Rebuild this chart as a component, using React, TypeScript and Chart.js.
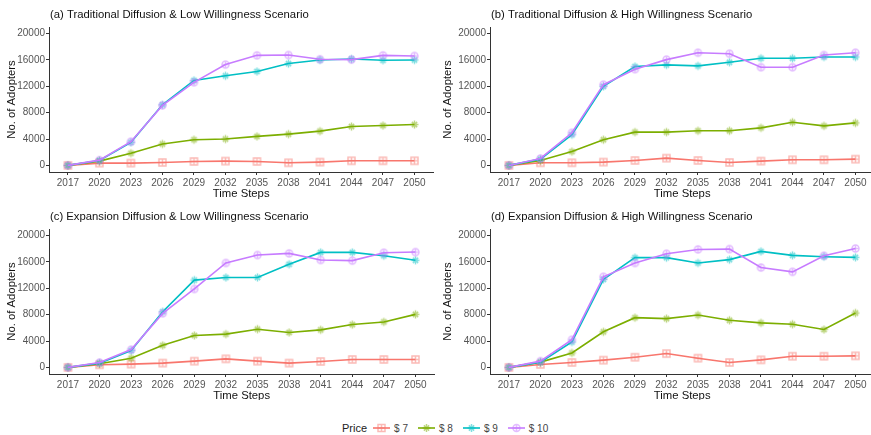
import React, { useEffect, useRef } from 'react';
import { Chart, registerables } from 'chart.js';

Chart.register(...registerables);

// ---------- data ----------
const years = ['2017', '2020', '2023', '2026', '2029', '2032', '2035', '2038', '2041', '2044', '2047', '2050'];
const yTickValues = [0, 4000, 8000, 12000, 16000, 20000];
const priceLabels = ['$ 7', '$ 8', '$ 9', '$ 10'];
const legendTitle = 'Price';
const xTitle = 'Time Steps';
const yTitle = 'No. of Adopters';
const panelTitles = [
  '(a) Traditional Diffusion & Low Willingness Scenario',
  '(b) Traditional Diffusion & High Willingness Scenario',
  '(c) Expansion Diffusion & Low Willingness Scenario',
  '(d) Expansion Diffusion & High Willingness Scenario',
];

const tradLowP7 = [0, 350, 350, 450, 600, 650, 600, 400, 500, 700, 700, 700];
const tradLowP8 = [0, 650, 1850, 3250, 3900, 4000, 4400, 4750, 5200, 5900, 6050, 6200];
const tradLowP9 = [0, 750, 3500, 9200, 12900, 13600, 14250, 15450, 16000, 16150, 15950, 16000];
const tradLowP10 = [0, 800, 3600, 9100, 12600, 15300, 16700, 16750, 16100, 16050, 16700, 16600];

const tradHighP7 = [0, 400, 400, 500, 750, 1100, 750, 450, 650, 850, 850, 950];
const tradHighP8 = [0, 750, 2100, 3900, 5050, 5050, 5250, 5250, 5700, 6550, 6000, 6450];
const tradHighP9 = [0, 950, 4650, 12000, 15000, 15250, 15100, 15650, 16250, 16250, 16450, 16450];
const tradHighP10 = [0, 1050, 4950, 12250, 14600, 16050, 17100, 16950, 14900, 14900, 16750, 17100];

const expLowP7 = [0, 400, 500, 650, 950, 1300, 950, 650, 900, 1200, 1200, 1200];
const expLowP8 = [0, 550, 1400, 3350, 4850, 5050, 5800, 5300, 5700, 6500, 6900, 8050];
const expLowP9 = [0, 650, 2550, 8450, 13250, 13650, 13650, 15650, 17450, 17450, 16950, 16250];
const expLowP10 = [0, 750, 2700, 8200, 11900, 15850, 17050, 17300, 16300, 16200, 17400, 17500];

const expHighP7 = [0, 450, 750, 1100, 1550, 2100, 1400, 750, 1150, 1700, 1700, 1750];
const expHighP8 = [0, 800, 2200, 5400, 7550, 7400, 7950, 7150, 6750, 6550, 5750, 8250];
const expHighP9 = [0, 800, 3850, 13350, 16650, 16650, 15850, 16350, 17600, 17000, 16800, 16700];
const expHighP10 = [0, 950, 4200, 13750, 15850, 17250, 17900, 17950, 15150, 14500, 16950, 18050];

// ---------- styles ----------
const COLORS = ['#F8766D', '#7CAE00', '#00BFC4', '#C77CFF'];
const FONT = '"Liberation Sans", Arial, Helvetica, sans-serif';
const AXIS_COLOR = '#333333';
const TICK_COLOR = '#555555';

function drawMarker(ctx: CanvasRenderingContext2D, kind: number, color: string, cx: number, cy: number) {
  ctx.save();
  ctx.strokeStyle = color;
  ctx.globalAlpha = 0.5;
  ctx.lineWidth = 1.5;
  const r = 3.5;
  ctx.beginPath();
  if (kind === 0) {
    ctx.rect(cx - r, cy - r, 2 * r, 2 * r);
    ctx.moveTo(cx, cy - r); ctx.lineTo(cx, cy + r);
    ctx.moveTo(cx - r, cy); ctx.lineTo(cx + r, cy);
  } else if (kind === 1 || kind === 2) {
    const d = r * 0.75;
    ctx.moveTo(cx, cy - r - 0.5); ctx.lineTo(cx, cy + r + 0.5);
    ctx.moveTo(cx - r - 0.5, cy); ctx.lineTo(cx + r + 0.5, cy);
    ctx.moveTo(cx - d, cy - d); ctx.lineTo(cx + d, cy + d);
    ctx.moveTo(cx - d, cy + d); ctx.lineTo(cx + d, cy - d);
  } else {
    ctx.arc(cx, cy, r, 0, Math.PI * 2);
    ctx.moveTo(cx, cy - r); ctx.lineTo(cx, cy + r);
    ctx.moveTo(cx - r, cy); ctx.lineTo(cx + r, cy);
  }
  ctx.stroke();
  ctx.restore();
}

function makeMarker(kind: number, color: string): HTMLCanvasElement {
  const s = 11;
  const c = document.createElement('canvas');
  c.width = s; c.height = s;
  const ctx = c.getContext('2d')!;
  drawMarker(ctx, kind, color, s / 2, s / 2);
  return c;
}

type Geo = { left: number; top: number; w: number; h: number; L: number; T: number; B: number; yTitleX: number };

const panels: { title: string; series: number[][]; geo: Geo }[] = [
  { title: panelTitles[0], series: [tradLowP7, tradLowP8, tradLowP9, tradLowP10], geo: { left: 0, top: 0, w: 440, h: 200, L: 49, T: 27, B: 172, yTitleX: 12 } },
  { title: panelTitles[1], series: [tradHighP7, tradHighP8, tradHighP9, tradHighP10], geo: { left: 435, top: 0, w: 446, h: 200, L: 55, T: 27, B: 172, yTitleX: 13 } },
  { title: panelTitles[2], series: [expLowP7, expLowP8, expLowP9, expLowP10], geo: { left: 0, top: 200, w: 441, h: 200, L: 49, T: 29, B: 174, yTitleX: 12 } },
  { title: panelTitles[3], series: [expHighP7, expHighP8, expHighP9, expHighP10], geo: { left: 435, top: 200, w: 446, h: 200, L: 55, T: 29, B: 174, yTitleX: 13 } },
];

function Panel({ title, series, geo }: { title: string; series: number[][]; geo: Geo }) {
  const ref = useRef<HTMLCanvasElement>(null);
  useEffect(() => {
    if (!ref.current) return;
    const markers = COLORS.map((c, i) => makeMarker(i, c));
    const textPlugin = {
      id: 'panelText',
      afterDraw(chart: any) {
        const { ctx, chartArea } = chart;
        ctx.save();
        ctx.fillStyle = '#111';
        ctx.textBaseline = 'middle';
        ctx.textAlign = 'left';
        ctx.font = `11.3px ${FONT}`;
        ctx.fillText(title, chartArea.left + 1, chartArea.top - 12);
        ctx.font = `11.3px ${FONT}`;
        ctx.textAlign = 'center';
        ctx.fillText(xTitle, (chartArea.left + chartArea.right) / 2, chartArea.bottom + 22);
        ctx.translate(geo.yTitleX, (chartArea.top + chartArea.bottom) / 2);
        ctx.rotate(-Math.PI / 2);
        ctx.fillText(yTitle, 0, 0);
        ctx.restore();
      },
    };
    const chart = new Chart(ref.current, {
      type: 'line',
      data: {
        datasets: series.map((vals, i) => ({
          label: priceLabels[i],
          data: vals.map((v, j) => ({ x: j, y: v })),
          borderColor: COLORS[i],
          backgroundColor: COLORS[i],
          borderWidth: 1.6,
          pointStyle: markers[i] as any,
          pointRadius: 5,
          pointHoverRadius: 5,
          fill: false,
          tension: 0,
          order: 3 - i,
        })),
      },
      options: {
        animation: false,
        responsive: false,
        maintainAspectRatio: false,
        events: [],
        layout: { padding: { left: 0, right: 3, top: geo.T, bottom: 0 } },
        plugins: { legend: { display: false }, tooltip: { enabled: false }, title: { display: false } },
        scales: {
          x: {
            type: 'linear',
            min: -0.6,
            max: 11.6,
            afterBuildTicks: (s: any) => { s.ticks = years.map((_, i) => ({ value: i })); },
            afterFit: (s: any) => { s.height = geo.h - geo.B; },
            ticks: {
              autoSkip: false,
              maxRotation: 0,
              padding: 2,
              color: TICK_COLOR,
              font: { family: FONT, size: 10 },
              callback: (v: any) => years[v as number],
            },
            grid: { drawOnChartArea: false, drawTicks: true, tickLength: 3, color: AXIS_COLOR, lineWidth: 1 },
            border: { display: true, color: AXIS_COLOR, width: 1 },
          },
          y: {
            type: 'linear',
            min: -1000,
            max: 21000,
            afterBuildTicks: (s: any) => { s.ticks = yTickValues.map((v) => ({ value: v })); },
            afterFit: (s: any) => { s.width = geo.L; },
            ticks: {
              padding: 1,
              color: TICK_COLOR,
              font: { family: FONT, size: 10 },
              callback: (v: any) => String(v),
            },
            grid: { drawOnChartArea: false, drawTicks: true, tickLength: 3, color: AXIS_COLOR, lineWidth: 1 },
            border: { display: true, color: AXIS_COLOR, width: 1 },
          },
        },
      },
      plugins: [textPlugin],
    });
    return () => chart.destroy();
  }, []);
  return (
    <canvas
      ref={ref}
      width={geo.w}
      height={geo.h}
      style={{ position: 'absolute', left: geo.left, top: geo.top, width: geo.w, height: geo.h }}
    />
  );
}

function LegendKey({ index }: { index: number }) {
  const ref = useRef<HTMLCanvasElement>(null);
  useEffect(() => {
    const c = ref.current;
    if (!c) return;
    const ctx = c.getContext('2d')!;
    ctx.clearRect(0, 0, c.width, c.height);
    ctx.strokeStyle = COLORS[index];
    ctx.lineWidth = 1.6;
    ctx.beginPath();
    ctx.moveTo(0, 7);
    ctx.lineTo(17, 7);
    ctx.stroke();
    drawMarker(ctx, index, COLORS[index], 8.5, 7);
  }, []);
  return <canvas ref={ref} width={17} height={14} style={{ display: 'block' }} />;
}

export default function App() {
  return (
    <div style={{ position: 'fixed', left: 0, top: 0, width: 871, height: 435, overflow: 'hidden', background: '#fff' }}>
      {panels.map((p, i) => (
        <Panel key={i} title={p.title} series={p.series} geo={p.geo} />
      ))}
      <div
        style={{
          position: 'absolute',
          left: 342,
          top: 421,
          height: 14,
          display: 'flex',
          alignItems: 'center',
          fontFamily: FONT,
          whiteSpace: 'nowrap',
        }}
      >
        <span style={{ fontSize: 11, color: '#222' }}>{legendTitle}</span>
        {priceLabels.map((lab, i) => (
          <React.Fragment key={i}>
            <span style={{ marginLeft: i === 0 ? 6 : 10 }}>
              <LegendKey index={i} />
            </span>
            <span style={{ marginLeft: 4, fontSize: 10, color: '#444' }}>{lab}</span>
          </React.Fragment>
        ))}
      </div>
    </div>
  );
}
